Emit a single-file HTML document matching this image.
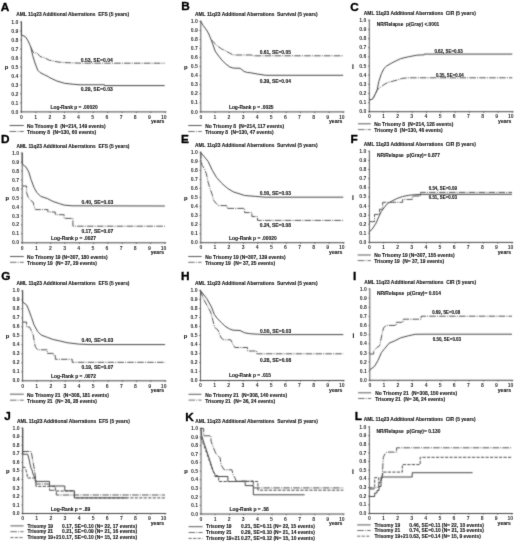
<!DOCTYPE html>
<html><head><meta charset="utf-8"><style>
html,body{margin:0;padding:0;background:#fff;}
svg{display:block;}
text{font-family:"Liberation Sans",sans-serif;font-weight:bold;fill:#1a1a1a;white-space:pre;stroke:#1a1a1a;stroke-width:0.12px;}
text.tk{fill:#333;stroke:none;}
</style></head><body>
<svg width="520" height="544" viewBox="0 0 520 544">
<defs><filter id="soft" filterUnits="userSpaceOnUse" x="0" y="0" width="520" height="544" color-interpolation-filters="sRGB"><feConvolveMatrix order="3" kernelMatrix="1 2 1 2 12 2 1 2 1" divisor="24" edgeMode="duplicate" preserveAlpha="false"/></filter><filter id="soft2" filterUnits="userSpaceOnUse" x="0" y="0" width="520" height="544" color-interpolation-filters="sRGB"><feConvolveMatrix order="3" kernelMatrix="0 1 0 1 8 1 0 1 0" divisor="12" edgeMode="none" preserveAlpha="false"/></filter></defs>
<rect width="520" height="544" fill="#fff"/>
<g filter="url(#soft)">
<rect width="520" height="544" fill="#fff"/>
<line x1="21.4" y1="21.2" x2="21.4" y2="111.9" stroke="#444" stroke-width="0.9"/>
<line x1="20.9" y1="111.9" x2="166.4" y2="111.9" stroke="#444" stroke-width="1"/>
<line x1="20.099999999999998" y1="111.9" x2="21.4" y2="111.9" stroke="#444" stroke-width="0.7"/>
<line x1="20.099999999999998" y1="102.9" x2="21.4" y2="102.9" stroke="#444" stroke-width="0.7"/>
<line x1="20.099999999999998" y1="93.9" x2="21.4" y2="93.9" stroke="#444" stroke-width="0.7"/>
<line x1="20.099999999999998" y1="84.9" x2="21.4" y2="84.9" stroke="#444" stroke-width="0.7"/>
<line x1="20.099999999999998" y1="75.9" x2="21.4" y2="75.9" stroke="#444" stroke-width="0.7"/>
<line x1="20.099999999999998" y1="67.0" x2="21.4" y2="67.0" stroke="#444" stroke-width="0.7"/>
<line x1="20.099999999999998" y1="58.0" x2="21.4" y2="58.0" stroke="#444" stroke-width="0.7"/>
<line x1="20.099999999999998" y1="49.0" x2="21.4" y2="49.0" stroke="#444" stroke-width="0.7"/>
<line x1="20.099999999999998" y1="40.0" x2="21.4" y2="40.0" stroke="#444" stroke-width="0.7"/>
<line x1="20.099999999999998" y1="31.0" x2="21.4" y2="31.0" stroke="#444" stroke-width="0.7"/>
<line x1="20.099999999999998" y1="22.0" x2="21.4" y2="22.0" stroke="#444" stroke-width="0.7"/>
<line x1="21.4" y1="111.9" x2="21.4" y2="113.1" stroke="#444" stroke-width="0.7"/>
<line x1="35.8" y1="111.9" x2="35.8" y2="113.1" stroke="#444" stroke-width="0.7"/>
<line x1="50.2" y1="111.9" x2="50.2" y2="113.1" stroke="#444" stroke-width="0.7"/>
<line x1="64.5" y1="111.9" x2="64.5" y2="113.1" stroke="#444" stroke-width="0.7"/>
<line x1="78.9" y1="111.9" x2="78.9" y2="113.1" stroke="#444" stroke-width="0.7"/>
<line x1="93.3" y1="111.9" x2="93.3" y2="113.1" stroke="#444" stroke-width="0.7"/>
<line x1="107.7" y1="111.9" x2="107.7" y2="113.1" stroke="#444" stroke-width="0.7"/>
<line x1="122.1" y1="111.9" x2="122.1" y2="113.1" stroke="#444" stroke-width="0.7"/>
<line x1="136.4" y1="111.9" x2="136.4" y2="113.1" stroke="#444" stroke-width="0.7"/>
<line x1="150.8" y1="111.9" x2="150.8" y2="113.1" stroke="#444" stroke-width="0.7"/>
<line x1="165.2" y1="111.9" x2="165.2" y2="113.1" stroke="#444" stroke-width="0.7"/>
<line x1="200.8" y1="20.5" x2="200.8" y2="111.9" stroke="#444" stroke-width="0.9"/>
<line x1="200.3" y1="111.9" x2="344.4" y2="111.9" stroke="#444" stroke-width="1"/>
<line x1="199.5" y1="111.9" x2="200.8" y2="111.9" stroke="#444" stroke-width="0.7"/>
<line x1="199.5" y1="102.8" x2="200.8" y2="102.8" stroke="#444" stroke-width="0.7"/>
<line x1="199.5" y1="93.8" x2="200.8" y2="93.8" stroke="#444" stroke-width="0.7"/>
<line x1="199.5" y1="84.7" x2="200.8" y2="84.7" stroke="#444" stroke-width="0.7"/>
<line x1="199.5" y1="75.7" x2="200.8" y2="75.7" stroke="#444" stroke-width="0.7"/>
<line x1="199.5" y1="66.6" x2="200.8" y2="66.6" stroke="#444" stroke-width="0.7"/>
<line x1="199.5" y1="57.5" x2="200.8" y2="57.5" stroke="#444" stroke-width="0.7"/>
<line x1="199.5" y1="48.5" x2="200.8" y2="48.5" stroke="#444" stroke-width="0.7"/>
<line x1="199.5" y1="39.4" x2="200.8" y2="39.4" stroke="#444" stroke-width="0.7"/>
<line x1="199.5" y1="30.4" x2="200.8" y2="30.4" stroke="#444" stroke-width="0.7"/>
<line x1="199.5" y1="21.3" x2="200.8" y2="21.3" stroke="#444" stroke-width="0.7"/>
<line x1="200.8" y1="111.9" x2="200.8" y2="113.1" stroke="#444" stroke-width="0.7"/>
<line x1="215.0" y1="111.9" x2="215.0" y2="113.1" stroke="#444" stroke-width="0.7"/>
<line x1="229.3" y1="111.9" x2="229.3" y2="113.1" stroke="#444" stroke-width="0.7"/>
<line x1="243.5" y1="111.9" x2="243.5" y2="113.1" stroke="#444" stroke-width="0.7"/>
<line x1="257.8" y1="111.9" x2="257.8" y2="113.1" stroke="#444" stroke-width="0.7"/>
<line x1="272.0" y1="111.9" x2="272.0" y2="113.1" stroke="#444" stroke-width="0.7"/>
<line x1="286.2" y1="111.9" x2="286.2" y2="113.1" stroke="#444" stroke-width="0.7"/>
<line x1="300.5" y1="111.9" x2="300.5" y2="113.1" stroke="#444" stroke-width="0.7"/>
<line x1="314.7" y1="111.9" x2="314.7" y2="113.1" stroke="#444" stroke-width="0.7"/>
<line x1="329.0" y1="111.9" x2="329.0" y2="113.1" stroke="#444" stroke-width="0.7"/>
<line x1="343.2" y1="111.9" x2="343.2" y2="113.1" stroke="#444" stroke-width="0.7"/>
<line x1="369.3" y1="19.5" x2="369.3" y2="111.7" stroke="#444" stroke-width="0.9"/>
<line x1="368.8" y1="111.7" x2="513.5" y2="111.7" stroke="#444" stroke-width="1"/>
<line x1="368.0" y1="111.7" x2="369.3" y2="111.7" stroke="#444" stroke-width="0.7"/>
<line x1="368.0" y1="102.6" x2="369.3" y2="102.6" stroke="#444" stroke-width="0.7"/>
<line x1="368.0" y1="93.4" x2="369.3" y2="93.4" stroke="#444" stroke-width="0.7"/>
<line x1="368.0" y1="84.3" x2="369.3" y2="84.3" stroke="#444" stroke-width="0.7"/>
<line x1="368.0" y1="75.1" x2="369.3" y2="75.1" stroke="#444" stroke-width="0.7"/>
<line x1="368.0" y1="66.0" x2="369.3" y2="66.0" stroke="#444" stroke-width="0.7"/>
<line x1="368.0" y1="56.9" x2="369.3" y2="56.9" stroke="#444" stroke-width="0.7"/>
<line x1="368.0" y1="47.7" x2="369.3" y2="47.7" stroke="#444" stroke-width="0.7"/>
<line x1="368.0" y1="38.6" x2="369.3" y2="38.6" stroke="#444" stroke-width="0.7"/>
<line x1="368.0" y1="29.4" x2="369.3" y2="29.4" stroke="#444" stroke-width="0.7"/>
<line x1="368.0" y1="20.3" x2="369.3" y2="20.3" stroke="#444" stroke-width="0.7"/>
<line x1="369.3" y1="111.7" x2="369.3" y2="112.9" stroke="#444" stroke-width="0.7"/>
<line x1="383.6" y1="111.7" x2="383.6" y2="112.9" stroke="#444" stroke-width="0.7"/>
<line x1="397.9" y1="111.7" x2="397.9" y2="112.9" stroke="#444" stroke-width="0.7"/>
<line x1="412.2" y1="111.7" x2="412.2" y2="112.9" stroke="#444" stroke-width="0.7"/>
<line x1="426.5" y1="111.7" x2="426.5" y2="112.9" stroke="#444" stroke-width="0.7"/>
<line x1="440.8" y1="111.7" x2="440.8" y2="112.9" stroke="#444" stroke-width="0.7"/>
<line x1="455.1" y1="111.7" x2="455.1" y2="112.9" stroke="#444" stroke-width="0.7"/>
<line x1="469.4" y1="111.7" x2="469.4" y2="112.9" stroke="#444" stroke-width="0.7"/>
<line x1="483.7" y1="111.7" x2="483.7" y2="112.9" stroke="#444" stroke-width="0.7"/>
<line x1="498.0" y1="111.7" x2="498.0" y2="112.9" stroke="#444" stroke-width="0.7"/>
<line x1="512.3" y1="111.7" x2="512.3" y2="112.9" stroke="#444" stroke-width="0.7"/>
<line x1="22.2" y1="152.3" x2="22.2" y2="242.8" stroke="#444" stroke-width="0.9"/>
<line x1="21.7" y1="242.8" x2="166.1" y2="242.8" stroke="#444" stroke-width="1"/>
<line x1="20.9" y1="242.8" x2="22.2" y2="242.8" stroke="#444" stroke-width="0.7"/>
<line x1="20.9" y1="233.8" x2="22.2" y2="233.8" stroke="#444" stroke-width="0.7"/>
<line x1="20.9" y1="224.9" x2="22.2" y2="224.9" stroke="#444" stroke-width="0.7"/>
<line x1="20.9" y1="215.9" x2="22.2" y2="215.9" stroke="#444" stroke-width="0.7"/>
<line x1="20.9" y1="206.9" x2="22.2" y2="206.9" stroke="#444" stroke-width="0.7"/>
<line x1="20.9" y1="197.9" x2="22.2" y2="197.9" stroke="#444" stroke-width="0.7"/>
<line x1="20.9" y1="189.0" x2="22.2" y2="189.0" stroke="#444" stroke-width="0.7"/>
<line x1="20.9" y1="180.0" x2="22.2" y2="180.0" stroke="#444" stroke-width="0.7"/>
<line x1="20.9" y1="171.0" x2="22.2" y2="171.0" stroke="#444" stroke-width="0.7"/>
<line x1="20.9" y1="162.1" x2="22.2" y2="162.1" stroke="#444" stroke-width="0.7"/>
<line x1="20.9" y1="153.1" x2="22.2" y2="153.1" stroke="#444" stroke-width="0.7"/>
<line x1="22.2" y1="242.8" x2="22.2" y2="244.0" stroke="#444" stroke-width="0.7"/>
<line x1="36.5" y1="242.8" x2="36.5" y2="244.0" stroke="#444" stroke-width="0.7"/>
<line x1="50.7" y1="242.8" x2="50.7" y2="244.0" stroke="#444" stroke-width="0.7"/>
<line x1="65.0" y1="242.8" x2="65.0" y2="244.0" stroke="#444" stroke-width="0.7"/>
<line x1="79.3" y1="242.8" x2="79.3" y2="244.0" stroke="#444" stroke-width="0.7"/>
<line x1="93.6" y1="242.8" x2="93.6" y2="244.0" stroke="#444" stroke-width="0.7"/>
<line x1="107.8" y1="242.8" x2="107.8" y2="244.0" stroke="#444" stroke-width="0.7"/>
<line x1="122.1" y1="242.8" x2="122.1" y2="244.0" stroke="#444" stroke-width="0.7"/>
<line x1="136.4" y1="242.8" x2="136.4" y2="244.0" stroke="#444" stroke-width="0.7"/>
<line x1="150.6" y1="242.8" x2="150.6" y2="244.0" stroke="#444" stroke-width="0.7"/>
<line x1="164.9" y1="242.8" x2="164.9" y2="244.0" stroke="#444" stroke-width="0.7"/>
<line x1="200.8" y1="151.5" x2="200.8" y2="242.7" stroke="#444" stroke-width="0.9"/>
<line x1="200.3" y1="242.7" x2="344.5" y2="242.7" stroke="#444" stroke-width="1"/>
<line x1="199.5" y1="242.7" x2="200.8" y2="242.7" stroke="#444" stroke-width="0.7"/>
<line x1="199.5" y1="233.7" x2="200.8" y2="233.7" stroke="#444" stroke-width="0.7"/>
<line x1="199.5" y1="224.6" x2="200.8" y2="224.6" stroke="#444" stroke-width="0.7"/>
<line x1="199.5" y1="215.6" x2="200.8" y2="215.6" stroke="#444" stroke-width="0.7"/>
<line x1="199.5" y1="206.5" x2="200.8" y2="206.5" stroke="#444" stroke-width="0.7"/>
<line x1="199.5" y1="197.5" x2="200.8" y2="197.5" stroke="#444" stroke-width="0.7"/>
<line x1="199.5" y1="188.5" x2="200.8" y2="188.5" stroke="#444" stroke-width="0.7"/>
<line x1="199.5" y1="179.4" x2="200.8" y2="179.4" stroke="#444" stroke-width="0.7"/>
<line x1="199.5" y1="170.4" x2="200.8" y2="170.4" stroke="#444" stroke-width="0.7"/>
<line x1="199.5" y1="161.3" x2="200.8" y2="161.3" stroke="#444" stroke-width="0.7"/>
<line x1="199.5" y1="152.3" x2="200.8" y2="152.3" stroke="#444" stroke-width="0.7"/>
<line x1="200.8" y1="242.7" x2="200.8" y2="243.9" stroke="#444" stroke-width="0.7"/>
<line x1="215.1" y1="242.7" x2="215.1" y2="243.9" stroke="#444" stroke-width="0.7"/>
<line x1="229.3" y1="242.7" x2="229.3" y2="243.9" stroke="#444" stroke-width="0.7"/>
<line x1="243.6" y1="242.7" x2="243.6" y2="243.9" stroke="#444" stroke-width="0.7"/>
<line x1="257.8" y1="242.7" x2="257.8" y2="243.9" stroke="#444" stroke-width="0.7"/>
<line x1="272.1" y1="242.7" x2="272.1" y2="243.9" stroke="#444" stroke-width="0.7"/>
<line x1="286.3" y1="242.7" x2="286.3" y2="243.9" stroke="#444" stroke-width="0.7"/>
<line x1="300.6" y1="242.7" x2="300.6" y2="243.9" stroke="#444" stroke-width="0.7"/>
<line x1="314.8" y1="242.7" x2="314.8" y2="243.9" stroke="#444" stroke-width="0.7"/>
<line x1="329.1" y1="242.7" x2="329.1" y2="243.9" stroke="#444" stroke-width="0.7"/>
<line x1="343.3" y1="242.7" x2="343.3" y2="243.9" stroke="#444" stroke-width="0.7"/>
<line x1="369.4" y1="150.5" x2="369.4" y2="242.4" stroke="#444" stroke-width="0.9"/>
<line x1="368.9" y1="242.4" x2="513.2" y2="242.4" stroke="#444" stroke-width="1"/>
<line x1="368.09999999999997" y1="242.4" x2="369.4" y2="242.4" stroke="#444" stroke-width="0.7"/>
<line x1="368.09999999999997" y1="233.3" x2="369.4" y2="233.3" stroke="#444" stroke-width="0.7"/>
<line x1="368.09999999999997" y1="224.2" x2="369.4" y2="224.2" stroke="#444" stroke-width="0.7"/>
<line x1="368.09999999999997" y1="215.1" x2="369.4" y2="215.1" stroke="#444" stroke-width="0.7"/>
<line x1="368.09999999999997" y1="206.0" x2="369.4" y2="206.0" stroke="#444" stroke-width="0.7"/>
<line x1="368.09999999999997" y1="196.9" x2="369.4" y2="196.9" stroke="#444" stroke-width="0.7"/>
<line x1="368.09999999999997" y1="187.7" x2="369.4" y2="187.7" stroke="#444" stroke-width="0.7"/>
<line x1="368.09999999999997" y1="178.6" x2="369.4" y2="178.6" stroke="#444" stroke-width="0.7"/>
<line x1="368.09999999999997" y1="169.5" x2="369.4" y2="169.5" stroke="#444" stroke-width="0.7"/>
<line x1="368.09999999999997" y1="160.4" x2="369.4" y2="160.4" stroke="#444" stroke-width="0.7"/>
<line x1="368.09999999999997" y1="151.3" x2="369.4" y2="151.3" stroke="#444" stroke-width="0.7"/>
<line x1="369.4" y1="242.4" x2="369.4" y2="243.6" stroke="#444" stroke-width="0.7"/>
<line x1="383.7" y1="242.4" x2="383.7" y2="243.6" stroke="#444" stroke-width="0.7"/>
<line x1="397.9" y1="242.4" x2="397.9" y2="243.6" stroke="#444" stroke-width="0.7"/>
<line x1="412.2" y1="242.4" x2="412.2" y2="243.6" stroke="#444" stroke-width="0.7"/>
<line x1="426.4" y1="242.4" x2="426.4" y2="243.6" stroke="#444" stroke-width="0.7"/>
<line x1="440.7" y1="242.4" x2="440.7" y2="243.6" stroke="#444" stroke-width="0.7"/>
<line x1="455.0" y1="242.4" x2="455.0" y2="243.6" stroke="#444" stroke-width="0.7"/>
<line x1="469.2" y1="242.4" x2="469.2" y2="243.6" stroke="#444" stroke-width="0.7"/>
<line x1="483.5" y1="242.4" x2="483.5" y2="243.6" stroke="#444" stroke-width="0.7"/>
<line x1="497.7" y1="242.4" x2="497.7" y2="243.6" stroke="#444" stroke-width="0.7"/>
<line x1="512.0" y1="242.4" x2="512.0" y2="243.6" stroke="#444" stroke-width="0.7"/>
<line x1="22.6" y1="290.0" x2="22.6" y2="380.8" stroke="#444" stroke-width="0.9"/>
<line x1="22.1" y1="380.8" x2="166.3" y2="380.8" stroke="#444" stroke-width="1"/>
<line x1="21.3" y1="380.8" x2="22.6" y2="380.8" stroke="#444" stroke-width="0.7"/>
<line x1="21.3" y1="371.8" x2="22.6" y2="371.8" stroke="#444" stroke-width="0.7"/>
<line x1="21.3" y1="362.8" x2="22.6" y2="362.8" stroke="#444" stroke-width="0.7"/>
<line x1="21.3" y1="353.8" x2="22.6" y2="353.8" stroke="#444" stroke-width="0.7"/>
<line x1="21.3" y1="344.8" x2="22.6" y2="344.8" stroke="#444" stroke-width="0.7"/>
<line x1="21.3" y1="335.8" x2="22.6" y2="335.8" stroke="#444" stroke-width="0.7"/>
<line x1="21.3" y1="326.8" x2="22.6" y2="326.8" stroke="#444" stroke-width="0.7"/>
<line x1="21.3" y1="317.8" x2="22.6" y2="317.8" stroke="#444" stroke-width="0.7"/>
<line x1="21.3" y1="308.8" x2="22.6" y2="308.8" stroke="#444" stroke-width="0.7"/>
<line x1="21.3" y1="299.8" x2="22.6" y2="299.8" stroke="#444" stroke-width="0.7"/>
<line x1="21.3" y1="290.8" x2="22.6" y2="290.8" stroke="#444" stroke-width="0.7"/>
<line x1="22.6" y1="380.8" x2="22.6" y2="382.0" stroke="#444" stroke-width="0.7"/>
<line x1="36.9" y1="380.8" x2="36.9" y2="382.0" stroke="#444" stroke-width="0.7"/>
<line x1="51.1" y1="380.8" x2="51.1" y2="382.0" stroke="#444" stroke-width="0.7"/>
<line x1="65.3" y1="380.8" x2="65.3" y2="382.0" stroke="#444" stroke-width="0.7"/>
<line x1="79.6" y1="380.8" x2="79.6" y2="382.0" stroke="#444" stroke-width="0.7"/>
<line x1="93.8" y1="380.8" x2="93.8" y2="382.0" stroke="#444" stroke-width="0.7"/>
<line x1="108.1" y1="380.8" x2="108.1" y2="382.0" stroke="#444" stroke-width="0.7"/>
<line x1="122.3" y1="380.8" x2="122.3" y2="382.0" stroke="#444" stroke-width="0.7"/>
<line x1="136.6" y1="380.8" x2="136.6" y2="382.0" stroke="#444" stroke-width="0.7"/>
<line x1="150.8" y1="380.8" x2="150.8" y2="382.0" stroke="#444" stroke-width="0.7"/>
<line x1="165.1" y1="380.8" x2="165.1" y2="382.0" stroke="#444" stroke-width="0.7"/>
<line x1="200.5" y1="289.7" x2="200.5" y2="380.5" stroke="#444" stroke-width="0.9"/>
<line x1="200.0" y1="380.5" x2="344.5" y2="380.5" stroke="#444" stroke-width="1"/>
<line x1="199.2" y1="380.5" x2="200.5" y2="380.5" stroke="#444" stroke-width="0.7"/>
<line x1="199.2" y1="371.5" x2="200.5" y2="371.5" stroke="#444" stroke-width="0.7"/>
<line x1="199.2" y1="362.5" x2="200.5" y2="362.5" stroke="#444" stroke-width="0.7"/>
<line x1="199.2" y1="353.5" x2="200.5" y2="353.5" stroke="#444" stroke-width="0.7"/>
<line x1="199.2" y1="344.5" x2="200.5" y2="344.5" stroke="#444" stroke-width="0.7"/>
<line x1="199.2" y1="335.5" x2="200.5" y2="335.5" stroke="#444" stroke-width="0.7"/>
<line x1="199.2" y1="326.5" x2="200.5" y2="326.5" stroke="#444" stroke-width="0.7"/>
<line x1="199.2" y1="317.5" x2="200.5" y2="317.5" stroke="#444" stroke-width="0.7"/>
<line x1="199.2" y1="308.5" x2="200.5" y2="308.5" stroke="#444" stroke-width="0.7"/>
<line x1="199.2" y1="299.5" x2="200.5" y2="299.5" stroke="#444" stroke-width="0.7"/>
<line x1="199.2" y1="290.5" x2="200.5" y2="290.5" stroke="#444" stroke-width="0.7"/>
<line x1="200.5" y1="380.5" x2="200.5" y2="381.7" stroke="#444" stroke-width="0.7"/>
<line x1="214.8" y1="380.5" x2="214.8" y2="381.7" stroke="#444" stroke-width="0.7"/>
<line x1="229.1" y1="380.5" x2="229.1" y2="381.7" stroke="#444" stroke-width="0.7"/>
<line x1="243.3" y1="380.5" x2="243.3" y2="381.7" stroke="#444" stroke-width="0.7"/>
<line x1="257.6" y1="380.5" x2="257.6" y2="381.7" stroke="#444" stroke-width="0.7"/>
<line x1="271.9" y1="380.5" x2="271.9" y2="381.7" stroke="#444" stroke-width="0.7"/>
<line x1="286.2" y1="380.5" x2="286.2" y2="381.7" stroke="#444" stroke-width="0.7"/>
<line x1="300.5" y1="380.5" x2="300.5" y2="381.7" stroke="#444" stroke-width="0.7"/>
<line x1="314.7" y1="380.5" x2="314.7" y2="381.7" stroke="#444" stroke-width="0.7"/>
<line x1="329.0" y1="380.5" x2="329.0" y2="381.7" stroke="#444" stroke-width="0.7"/>
<line x1="343.3" y1="380.5" x2="343.3" y2="381.7" stroke="#444" stroke-width="0.7"/>
<line x1="369.8" y1="288.2" x2="369.8" y2="380.3" stroke="#444" stroke-width="0.9"/>
<line x1="369.3" y1="380.3" x2="513.2" y2="380.3" stroke="#444" stroke-width="1"/>
<line x1="368.5" y1="380.3" x2="369.8" y2="380.3" stroke="#444" stroke-width="0.7"/>
<line x1="368.5" y1="371.2" x2="369.8" y2="371.2" stroke="#444" stroke-width="0.7"/>
<line x1="368.5" y1="362.0" x2="369.8" y2="362.0" stroke="#444" stroke-width="0.7"/>
<line x1="368.5" y1="352.9" x2="369.8" y2="352.9" stroke="#444" stroke-width="0.7"/>
<line x1="368.5" y1="343.8" x2="369.8" y2="343.8" stroke="#444" stroke-width="0.7"/>
<line x1="368.5" y1="334.6" x2="369.8" y2="334.6" stroke="#444" stroke-width="0.7"/>
<line x1="368.5" y1="325.5" x2="369.8" y2="325.5" stroke="#444" stroke-width="0.7"/>
<line x1="368.5" y1="316.4" x2="369.8" y2="316.4" stroke="#444" stroke-width="0.7"/>
<line x1="368.5" y1="307.3" x2="369.8" y2="307.3" stroke="#444" stroke-width="0.7"/>
<line x1="368.5" y1="298.1" x2="369.8" y2="298.1" stroke="#444" stroke-width="0.7"/>
<line x1="368.5" y1="289.0" x2="369.8" y2="289.0" stroke="#444" stroke-width="0.7"/>
<line x1="369.8" y1="380.3" x2="369.8" y2="381.5" stroke="#444" stroke-width="0.7"/>
<line x1="384.0" y1="380.3" x2="384.0" y2="381.5" stroke="#444" stroke-width="0.7"/>
<line x1="398.2" y1="380.3" x2="398.2" y2="381.5" stroke="#444" stroke-width="0.7"/>
<line x1="412.5" y1="380.3" x2="412.5" y2="381.5" stroke="#444" stroke-width="0.7"/>
<line x1="426.7" y1="380.3" x2="426.7" y2="381.5" stroke="#444" stroke-width="0.7"/>
<line x1="440.9" y1="380.3" x2="440.9" y2="381.5" stroke="#444" stroke-width="0.7"/>
<line x1="455.1" y1="380.3" x2="455.1" y2="381.5" stroke="#444" stroke-width="0.7"/>
<line x1="469.3" y1="380.3" x2="469.3" y2="381.5" stroke="#444" stroke-width="0.7"/>
<line x1="483.6" y1="380.3" x2="483.6" y2="381.5" stroke="#444" stroke-width="0.7"/>
<line x1="497.8" y1="380.3" x2="497.8" y2="381.5" stroke="#444" stroke-width="0.7"/>
<line x1="512.0" y1="380.3" x2="512.0" y2="381.5" stroke="#444" stroke-width="0.7"/>
<line x1="22.7" y1="427.4" x2="22.7" y2="513.5" stroke="#444" stroke-width="0.9"/>
<line x1="22.2" y1="513.5" x2="166.2" y2="513.5" stroke="#444" stroke-width="1"/>
<line x1="21.4" y1="513.5" x2="22.7" y2="513.5" stroke="#444" stroke-width="0.7"/>
<line x1="21.4" y1="505.0" x2="22.7" y2="505.0" stroke="#444" stroke-width="0.7"/>
<line x1="21.4" y1="496.4" x2="22.7" y2="496.4" stroke="#444" stroke-width="0.7"/>
<line x1="21.4" y1="487.9" x2="22.7" y2="487.9" stroke="#444" stroke-width="0.7"/>
<line x1="21.4" y1="479.4" x2="22.7" y2="479.4" stroke="#444" stroke-width="0.7"/>
<line x1="21.4" y1="470.9" x2="22.7" y2="470.9" stroke="#444" stroke-width="0.7"/>
<line x1="21.4" y1="462.3" x2="22.7" y2="462.3" stroke="#444" stroke-width="0.7"/>
<line x1="21.4" y1="453.8" x2="22.7" y2="453.8" stroke="#444" stroke-width="0.7"/>
<line x1="21.4" y1="445.3" x2="22.7" y2="445.3" stroke="#444" stroke-width="0.7"/>
<line x1="21.4" y1="436.7" x2="22.7" y2="436.7" stroke="#444" stroke-width="0.7"/>
<line x1="21.4" y1="428.2" x2="22.7" y2="428.2" stroke="#444" stroke-width="0.7"/>
<line x1="22.7" y1="513.5" x2="22.7" y2="514.7" stroke="#444" stroke-width="0.7"/>
<line x1="36.9" y1="513.5" x2="36.9" y2="514.7" stroke="#444" stroke-width="0.7"/>
<line x1="51.2" y1="513.5" x2="51.2" y2="514.7" stroke="#444" stroke-width="0.7"/>
<line x1="65.4" y1="513.5" x2="65.4" y2="514.7" stroke="#444" stroke-width="0.7"/>
<line x1="79.6" y1="513.5" x2="79.6" y2="514.7" stroke="#444" stroke-width="0.7"/>
<line x1="93.9" y1="513.5" x2="93.9" y2="514.7" stroke="#444" stroke-width="0.7"/>
<line x1="108.1" y1="513.5" x2="108.1" y2="514.7" stroke="#444" stroke-width="0.7"/>
<line x1="122.3" y1="513.5" x2="122.3" y2="514.7" stroke="#444" stroke-width="0.7"/>
<line x1="136.5" y1="513.5" x2="136.5" y2="514.7" stroke="#444" stroke-width="0.7"/>
<line x1="150.8" y1="513.5" x2="150.8" y2="514.7" stroke="#444" stroke-width="0.7"/>
<line x1="165.0" y1="513.5" x2="165.0" y2="514.7" stroke="#444" stroke-width="0.7"/>
<line x1="201.0" y1="427.6" x2="201.0" y2="514.0" stroke="#444" stroke-width="0.9"/>
<line x1="200.5" y1="514.0" x2="344.5" y2="514.0" stroke="#444" stroke-width="1"/>
<line x1="199.7" y1="514.0" x2="201.0" y2="514.0" stroke="#444" stroke-width="0.7"/>
<line x1="199.7" y1="505.4" x2="201.0" y2="505.4" stroke="#444" stroke-width="0.7"/>
<line x1="199.7" y1="496.9" x2="201.0" y2="496.9" stroke="#444" stroke-width="0.7"/>
<line x1="199.7" y1="488.3" x2="201.0" y2="488.3" stroke="#444" stroke-width="0.7"/>
<line x1="199.7" y1="479.8" x2="201.0" y2="479.8" stroke="#444" stroke-width="0.7"/>
<line x1="199.7" y1="471.2" x2="201.0" y2="471.2" stroke="#444" stroke-width="0.7"/>
<line x1="199.7" y1="462.6" x2="201.0" y2="462.6" stroke="#444" stroke-width="0.7"/>
<line x1="199.7" y1="454.1" x2="201.0" y2="454.1" stroke="#444" stroke-width="0.7"/>
<line x1="199.7" y1="445.5" x2="201.0" y2="445.5" stroke="#444" stroke-width="0.7"/>
<line x1="199.7" y1="437.0" x2="201.0" y2="437.0" stroke="#444" stroke-width="0.7"/>
<line x1="199.7" y1="428.4" x2="201.0" y2="428.4" stroke="#444" stroke-width="0.7"/>
<line x1="201.0" y1="514.0" x2="201.0" y2="515.2" stroke="#444" stroke-width="0.7"/>
<line x1="215.2" y1="514.0" x2="215.2" y2="515.2" stroke="#444" stroke-width="0.7"/>
<line x1="229.5" y1="514.0" x2="229.5" y2="515.2" stroke="#444" stroke-width="0.7"/>
<line x1="243.7" y1="514.0" x2="243.7" y2="515.2" stroke="#444" stroke-width="0.7"/>
<line x1="257.9" y1="514.0" x2="257.9" y2="515.2" stroke="#444" stroke-width="0.7"/>
<line x1="272.1" y1="514.0" x2="272.1" y2="515.2" stroke="#444" stroke-width="0.7"/>
<line x1="286.4" y1="514.0" x2="286.4" y2="515.2" stroke="#444" stroke-width="0.7"/>
<line x1="300.6" y1="514.0" x2="300.6" y2="515.2" stroke="#444" stroke-width="0.7"/>
<line x1="314.8" y1="514.0" x2="314.8" y2="515.2" stroke="#444" stroke-width="0.7"/>
<line x1="329.1" y1="514.0" x2="329.1" y2="515.2" stroke="#444" stroke-width="0.7"/>
<line x1="343.3" y1="514.0" x2="343.3" y2="515.2" stroke="#444" stroke-width="0.7"/>
<line x1="369.4" y1="426.1" x2="369.4" y2="513.5" stroke="#444" stroke-width="0.9"/>
<line x1="368.9" y1="513.5" x2="513.0" y2="513.5" stroke="#444" stroke-width="1"/>
<line x1="368.09999999999997" y1="513.5" x2="369.4" y2="513.5" stroke="#444" stroke-width="0.7"/>
<line x1="368.09999999999997" y1="504.8" x2="369.4" y2="504.8" stroke="#444" stroke-width="0.7"/>
<line x1="368.09999999999997" y1="496.2" x2="369.4" y2="496.2" stroke="#444" stroke-width="0.7"/>
<line x1="368.09999999999997" y1="487.5" x2="369.4" y2="487.5" stroke="#444" stroke-width="0.7"/>
<line x1="368.09999999999997" y1="478.9" x2="369.4" y2="478.9" stroke="#444" stroke-width="0.7"/>
<line x1="368.09999999999997" y1="470.2" x2="369.4" y2="470.2" stroke="#444" stroke-width="0.7"/>
<line x1="368.09999999999997" y1="461.5" x2="369.4" y2="461.5" stroke="#444" stroke-width="0.7"/>
<line x1="368.09999999999997" y1="452.9" x2="369.4" y2="452.9" stroke="#444" stroke-width="0.7"/>
<line x1="368.09999999999997" y1="444.2" x2="369.4" y2="444.2" stroke="#444" stroke-width="0.7"/>
<line x1="368.09999999999997" y1="435.6" x2="369.4" y2="435.6" stroke="#444" stroke-width="0.7"/>
<line x1="368.09999999999997" y1="426.9" x2="369.4" y2="426.9" stroke="#444" stroke-width="0.7"/>
<line x1="369.4" y1="513.5" x2="369.4" y2="514.7" stroke="#444" stroke-width="0.7"/>
<line x1="383.6" y1="513.5" x2="383.6" y2="514.7" stroke="#444" stroke-width="0.7"/>
<line x1="397.9" y1="513.5" x2="397.9" y2="514.7" stroke="#444" stroke-width="0.7"/>
<line x1="412.1" y1="513.5" x2="412.1" y2="514.7" stroke="#444" stroke-width="0.7"/>
<line x1="426.4" y1="513.5" x2="426.4" y2="514.7" stroke="#444" stroke-width="0.7"/>
<line x1="440.6" y1="513.5" x2="440.6" y2="514.7" stroke="#444" stroke-width="0.7"/>
<line x1="454.8" y1="513.5" x2="454.8" y2="514.7" stroke="#444" stroke-width="0.7"/>
<line x1="469.1" y1="513.5" x2="469.1" y2="514.7" stroke="#444" stroke-width="0.7"/>
<line x1="483.3" y1="513.5" x2="483.3" y2="514.7" stroke="#444" stroke-width="0.7"/>
<line x1="497.6" y1="513.5" x2="497.6" y2="514.7" stroke="#444" stroke-width="0.7"/>
<line x1="511.8" y1="513.5" x2="511.8" y2="514.7" stroke="#444" stroke-width="0.7"/>
<line x1="9.6" y1="125.5" x2="23.8" y2="125.5" stroke="#3a3a3a" stroke-width="0.85"/>
<line x1="9.6" y1="131.5" x2="23.8" y2="131.5" stroke="#505050" stroke-width="0.85" stroke-dasharray="6.5 1.2 1 1.2"/>
<polyline points="21.4,22.0 21.4,34.9 25.4,36.7 28.1,40.9 30.9,47.3 32.7,55.6 35.0,63.0 37.8,70.3 40.1,72.6 44.7,74.9 48.3,76.7 50.0,77.8 56.9,81.0 64.6,83.3 73.8,84.3 80.0,84.8 104.5,84.8 104.5,85.6 164.7,85.6" fill="none" stroke="#3a3a3a" stroke-width="0.95"/>
<polyline points="30.9,47.3 33.2,52.4 37.3,53.3 40.1,56.5 44.7,57.9 49.3,60.2 58.0,62.0 65.0,62.6 75.0,63.0 85.0,63.2 164.7,63.2" fill="none" stroke="#505050" stroke-width="1" stroke-dasharray="6.5 1.2 1 1.2"/>
<line x1="188.2" y1="125.5" x2="201.8" y2="125.5" stroke="#3a3a3a" stroke-width="0.85"/>
<line x1="188.2" y1="131.5" x2="201.8" y2="131.5" stroke="#505050" stroke-width="0.85" stroke-dasharray="6.5 1.2 1 1.2"/>
<polyline points="200.8,21.3 203.1,25.4 206.5,30.0 208.8,34.0 211.1,39.6 212.8,44.2 215.1,51.0 217.9,55.0 221.9,60.1 225.9,64.1 229.9,67.0 233.3,68.1 240.1,68.3 244.1,71.5 247.5,72.5 250.2,72.7 257.1,74.0 265.8,75.3 343.2,75.3" fill="none" stroke="#3a3a3a" stroke-width="0.95"/>
<polyline points="211.1,39.6 213.9,42.5 217.4,45.9 221.3,48.8 225.9,51.0 229.9,53.3 233.3,55.0 252.8,55.0 252.8,55.8 343.2,55.8" fill="none" stroke="#505050" stroke-width="1" stroke-dasharray="6.5 1.2 1 1.2"/>
<line x1="358.0" y1="123.8" x2="370.8" y2="123.8" stroke="#3a3a3a" stroke-width="0.85"/>
<line x1="358.0" y1="129.6" x2="370.8" y2="129.6" stroke="#505050" stroke-width="0.85" stroke-dasharray="6.5 1.2 1 1.2"/>
<polyline points="369.3,99.7 371.9,99.5 373.7,97.1 375.5,93.5 377.1,90.2 378.8,81.5 381.4,73.7 384.0,68.5 386.6,66.0 391.8,63.0 396.1,60.8 400.5,58.7 408.3,56.8 416.9,55.2 424.3,54.8 424.3,54.1 512.3,54.1" fill="none" stroke="#3a3a3a" stroke-width="0.95"/>
<polyline points="369.3,99.7 371.9,99.5 373.7,97.5 375.5,93.8 377.1,90.2 378.5,88.5 380.6,87.2 384.0,84.6 387.5,82.6 392.7,81.2 397.0,80.1 402.2,78.4 408.0,77.8 512.3,77.8" fill="none" stroke="#505050" stroke-width="1" stroke-dasharray="6.5 1.2 1 1.2"/>
<line x1="10.0" y1="256.5" x2="23.8" y2="256.5" stroke="#3a3a3a" stroke-width="0.85"/>
<line x1="10.0" y1="262.3" x2="23.8" y2="262.3" stroke="#505050" stroke-width="0.85" stroke-dasharray="6.5 1.2 1 1.2"/>
<polyline points="22.2,153.1 22.2,164.0 25.9,166.9 28.8,172.1 31.0,179.4 34.0,187.5 36.9,192.6 40.6,196.3 47.2,198.5 53.1,201.5 59.7,203.7 64.1,205.1 72.0,205.8 164.9,206.0" fill="none" stroke="#3a3a3a" stroke-width="0.95"/>
<polyline points="22.2,186.0 26.6,186.0 26.6,192.6 28.1,197.1 31.0,200.7 33.2,202.2 34.0,206.0 35.4,209.6 47.9,209.6 47.9,212.0 55.3,212.0 55.3,214.7 64.1,214.7 64.1,218.4 72.9,218.4 72.9,226.2 164.9,226.2" fill="none" stroke="#505050" stroke-width="1" stroke-dasharray="6.5 1.2 1 1.2"/>
<line x1="188.2" y1="256.5" x2="201.6" y2="256.5" stroke="#3a3a3a" stroke-width="0.85"/>
<line x1="188.2" y1="262.3" x2="201.6" y2="262.3" stroke="#505050" stroke-width="0.85" stroke-dasharray="6.5 1.2 1 1.2"/>
<polyline points="200.8,152.6 208.1,161.3 212.3,170.3 216.5,177.5 221.9,183.4 227.3,188.2 233.2,191.8 244.6,195.5 255.6,196.4 265.0,197.2 343.3,197.2" fill="none" stroke="#3a3a3a" stroke-width="0.95"/>
<polyline points="200.8,152.3 200.8,160.0 202.2,165.5 204.6,169.1 206.4,173.9 208.1,182.2 209.9,188.2 212.3,194.8 213.5,200.1 215.9,203.1 218.3,205.6 227.1,205.6 227.1,208.4 244.6,208.4 244.6,212.6 251.9,212.6 251.9,216.6 257.5,216.6 257.5,220.4 343.3,220.4" fill="none" stroke="#505050" stroke-width="1" stroke-dasharray="6.5 1.2 1 1.2"/>
<line x1="357.7" y1="255.0" x2="370.8" y2="255.0" stroke="#3a3a3a" stroke-width="0.85"/>
<line x1="357.7" y1="260.6" x2="370.8" y2="260.6" stroke="#505050" stroke-width="0.85" stroke-dasharray="6.5 1.2 1 1.2"/>
<polyline points="369.4,231.7 372.0,229.4 376.1,223.1 379.0,216.2 381.3,211.5 384.7,206.9 387.6,203.5 391.7,201.2 396.8,198.6 402.6,196.5 409.5,195.2 420.0,194.4 512.0,194.3" fill="none" stroke="#3a3a3a" stroke-width="0.95"/>
<polyline points="369.4,221.7 374.5,221.7 374.5,214.4 379.5,214.4 379.5,209.2 382.7,209.2 382.7,202.3 402.6,202.3 402.6,199.4 412.4,199.4 412.4,196.0 420.5,196.0 420.5,192.4 512.0,192.4" fill="none" stroke="#505050" stroke-width="1" stroke-dasharray="6.5 1.2 1 1.2"/>
<line x1="10.0" y1="394.2" x2="23.8" y2="394.2" stroke="#3a3a3a" stroke-width="0.85"/>
<line x1="10.0" y1="400.2" x2="23.8" y2="400.2" stroke="#505050" stroke-width="0.85" stroke-dasharray="6.5 1.2 1 1.2"/>
<polyline points="22.6,290.8 22.6,302.0 26.6,304.9 28.8,310.1 31.5,317.4 34.0,324.8 37.6,331.4 41.3,335.1 47.2,337.3 53.1,339.5 59.7,340.9 67.1,342.7 78.6,344.1 90.0,344.6 165.1,344.6" fill="none" stroke="#3a3a3a" stroke-width="0.95"/>
<polyline points="22.6,322.1 26.6,322.1 26.6,327.0 29.5,327.0 31.0,329.9 33.2,335.1 34.7,343.9 35.4,346.8 37.6,349.8 47.2,349.8 47.2,353.4 53.1,353.4 53.1,355.0 55.3,355.0 55.3,359.3 72.2,359.3 72.2,362.3 165.1,362.3" fill="none" stroke="#505050" stroke-width="1" stroke-dasharray="6.5 1.2 1 1.2"/>
<line x1="188.5" y1="394.3" x2="201.5" y2="394.3" stroke="#3a3a3a" stroke-width="0.85"/>
<line x1="188.5" y1="400.1" x2="201.5" y2="400.1" stroke="#505050" stroke-width="0.85" stroke-dasharray="6.5 1.2 1 1.2"/>
<polyline points="200.5,290.5 206.9,298.8 211.5,307.0 214.3,314.4 216.9,318.1 221.5,322.7 225.0,326.2 229.6,329.0 233.1,330.2 240.0,330.5 244.6,332.8 249.8,333.7 257.3,334.2 265.0,334.6 343.3,334.6" fill="none" stroke="#3a3a3a" stroke-width="0.95"/>
<polyline points="200.5,290.5 203.3,298.8 206.9,305.2 210.6,312.0 212.9,320.4 214.6,327.3 218.1,330.2 219.8,334.8 221.5,338.3 223.8,339.8 230.8,339.8 232.5,343.5 234.8,347.5 247.5,347.5 247.5,351.0 256.7,351.0 256.7,353.8 343.3,353.8" fill="none" stroke="#505050" stroke-width="1" stroke-dasharray="6.5 1.2 1 1.2"/>
<line x1="358.1" y1="392.8" x2="371.2" y2="392.8" stroke="#3a3a3a" stroke-width="0.85"/>
<line x1="358.1" y1="398.5" x2="371.2" y2="398.5" stroke="#505050" stroke-width="0.85" stroke-dasharray="6.5 1.2 1 1.2"/>
<polyline points="369.8,369.9 374.5,366.4 378.0,360.4 381.4,352.6 384.9,348.3 389.2,343.1 394.4,341.0 400.5,337.9 408.3,335.8 415.2,334.3 425.0,334.2 512.0,334.2" fill="none" stroke="#3a3a3a" stroke-width="0.95"/>
<polyline points="369.8,354.0 373.7,354.0 373.7,350.9 377.1,347.4 379.7,345.7 382.3,332.7 383.7,327.5 386.6,325.4 396.2,325.4 396.2,322.3 403.1,322.3 403.1,319.2 421.2,319.2 421.2,316.2 512.0,316.2" fill="none" stroke="#505050" stroke-width="1" stroke-dasharray="6.5 1.2 1 1.2"/>
<line x1="10.4" y1="525.9" x2="23.6" y2="525.9" stroke="#3a3a3a" stroke-width="0.85"/>
<line x1="10.4" y1="531.7" x2="23.6" y2="531.7" stroke="#505050" stroke-width="0.85" stroke-dasharray="6.5 1.2 1 1.2"/>
<line x1="10.4" y1="537.6" x2="23.6" y2="537.6" stroke="#4a4a4a" stroke-width="0.85" stroke-dasharray="3.2 1.3"/>
<polyline points="22.7,428.2 22.7,454.2 27.7,454.2 29.0,459.0 30.0,464.0 31.0,468.0 32.0,470.0 33.0,474.0 34.0,476.0 35.0,478.5 35.7,481.4 49.5,481.4 49.5,486.0 64.8,486.0 64.8,490.8 74.4,490.8 74.4,497.9 126.8,497.9" fill="none" stroke="#3a3a3a" stroke-width="0.95"/>
<polyline points="22.7,451.5 31.2,451.5 32.0,456.0 33.0,462.0 34.0,467.0 35.0,474.0 36.0,481.0 36.0,484.0 49.5,484.0 49.5,490.3 56.3,490.3 56.3,495.0 165.0,495.0" fill="none" stroke="#505050" stroke-width="1" stroke-dasharray="6.5 1.2 1 1.2"/>
<polyline points="22.7,467.3 25.0,467.3 26.0,470.0 27.0,474.0 27.5,478.0 35.0,478.0 36.0,486.4 55.3,486.4 55.3,491.0 74.4,491.0 74.4,497.9 165.0,497.9" fill="none" stroke="#4a4a4a" stroke-width="1" stroke-dasharray="3.2 1.3"/>
<line x1="188.6" y1="526.7" x2="202.6" y2="526.7" stroke="#3a3a3a" stroke-width="0.85"/>
<line x1="188.6" y1="532.5" x2="202.6" y2="532.5" stroke="#505050" stroke-width="0.85" stroke-dasharray="6.5 1.2 1 1.2"/>
<line x1="188.6" y1="538.4" x2="202.6" y2="538.4" stroke="#4a4a4a" stroke-width="0.85" stroke-dasharray="3.2 1.3"/>
<polyline points="201.0,428.4 201.6,435.3 204.2,443.5 207.3,452.8 210.3,462.0 212.9,470.3 215.0,474.4 215.0,476.5 227.9,476.5 227.9,481.5 245.2,481.5 245.2,485.6 253.3,485.6 253.3,494.8 304.6,494.8" fill="none" stroke="#3a3a3a" stroke-width="0.95"/>
<polyline points="201.0,428.4 203.7,428.4 203.7,435.8 210.9,435.8 211.0,441.0 213.4,447.7 216.0,453.8 220.1,457.9 221.1,465.1 224.2,469.8 231.9,469.8 233.0,474.4 235.0,478.0 236.2,481.0 253.3,481.0 253.3,487.9 343.3,487.9" fill="none" stroke="#505050" stroke-width="1" stroke-dasharray="6.5 1.2 1 1.2"/>
<polyline points="201.0,437.4 204.2,446.1 207.0,454.0 210.9,465.1 213.4,472.3 216.0,475.4 218.7,476.3 218.7,481.5 257.9,481.5 257.9,490.2 343.3,490.2" fill="none" stroke="#4a4a4a" stroke-width="1" stroke-dasharray="3.2 1.3"/>
<line x1="357.2" y1="524.9" x2="370.7" y2="524.9" stroke="#3a3a3a" stroke-width="0.85"/>
<line x1="357.2" y1="530.5" x2="370.7" y2="530.5" stroke="#505050" stroke-width="0.85" stroke-dasharray="6.5 1.2 1 1.2"/>
<line x1="357.2" y1="536.2" x2="370.7" y2="536.2" stroke="#4a4a4a" stroke-width="0.85" stroke-dasharray="3.2 1.3"/>
<polyline points="369.4,496.5 374.7,496.5 374.7,493.0 377.0,493.0 377.0,490.5 379.0,490.5 379.0,486.5 381.0,486.5 381.0,477.0 412.2,477.0 412.2,472.7 472.6,472.7" fill="none" stroke="#3a3a3a" stroke-width="0.95"/>
<polyline points="369.4,489.0 374.1,489.0 374.1,487.3 378.7,487.3 378.7,484.0 381.0,481.0 382.2,476.9 383.3,457.3 385.0,453.8 386.8,452.1 396.6,452.1 396.6,447.8 511.8,447.8" fill="none" stroke="#505050" stroke-width="1" stroke-dasharray="6.5 1.2 1 1.2"/>
<polyline points="369.4,487.8 372.5,487.8 374.7,486.0 374.7,477.6 378.7,477.6 378.7,483.0 381.0,481.0 383.3,472.1 402.3,472.1 402.3,464.6 420.2,464.6 420.2,457.3 511.8,457.3" fill="none" stroke="#4a4a4a" stroke-width="1" stroke-dasharray="3.2 1.3"/>
</g>
<g filter="url(#soft2)">
<text x="18.40" y="113.53" font-size="5.1" text-anchor="end" class="tk">0.0</text>
<text x="18.40" y="104.54" font-size="5.1" text-anchor="end" class="tk">0.1</text>
<text x="18.40" y="95.55" font-size="5.1" text-anchor="end" class="tk">0.2</text>
<text x="18.40" y="86.56" font-size="5.1" text-anchor="end" class="tk">0.3</text>
<text x="18.40" y="77.57" font-size="5.1" text-anchor="end" class="tk">0.4</text>
<text x="18.40" y="68.58" font-size="5.1" text-anchor="end" class="tk">0.5</text>
<text x="18.40" y="59.59" font-size="5.1" text-anchor="end" class="tk">0.6</text>
<text x="18.40" y="50.60" font-size="5.1" text-anchor="end" class="tk">0.7</text>
<text x="18.40" y="41.61" font-size="5.1" text-anchor="end" class="tk">0.8</text>
<text x="18.40" y="32.62" font-size="5.1" text-anchor="end" class="tk">0.9</text>
<text x="18.40" y="23.63" font-size="5.1" text-anchor="end" class="tk">1.0</text>
<text x="21.40" y="118.63" font-size="5.1" text-anchor="middle" class="tk">0</text>
<text x="35.64" y="118.63" font-size="5.1" text-anchor="middle" class="tk">1</text>
<text x="49.87" y="118.63" font-size="5.1" text-anchor="middle" class="tk">2</text>
<text x="64.11" y="118.63" font-size="5.1" text-anchor="middle" class="tk">3</text>
<text x="78.34" y="118.63" font-size="5.1" text-anchor="middle" class="tk">4</text>
<text x="92.58" y="118.63" font-size="5.1" text-anchor="middle" class="tk">5</text>
<text x="106.82" y="118.63" font-size="5.1" text-anchor="middle" class="tk">6</text>
<text x="121.05" y="118.63" font-size="5.1" text-anchor="middle" class="tk">7</text>
<text x="135.29" y="118.63" font-size="5.1" text-anchor="middle" class="tk">8</text>
<text x="149.53" y="118.63" font-size="5.1" text-anchor="middle" class="tk">9</text>
<text x="163.76" y="118.63" font-size="5.1" text-anchor="middle" class="tk">10</text>
<text x="164.30" y="123.23" font-size="5.1" text-anchor="end">years</text>
<text x="6.4" y="69.0" font-size="5.8" text-anchor="middle">p</text>
<text x="197.80" y="113.53" font-size="5.1" text-anchor="end" class="tk">0.0</text>
<text x="197.80" y="104.47" font-size="5.1" text-anchor="end" class="tk">0.1</text>
<text x="197.80" y="95.41" font-size="5.1" text-anchor="end" class="tk">0.2</text>
<text x="197.80" y="86.35" font-size="5.1" text-anchor="end" class="tk">0.3</text>
<text x="197.80" y="77.29" font-size="5.1" text-anchor="end" class="tk">0.4</text>
<text x="197.80" y="68.23" font-size="5.1" text-anchor="end" class="tk">0.5</text>
<text x="197.80" y="59.17" font-size="5.1" text-anchor="end" class="tk">0.6</text>
<text x="197.80" y="50.11" font-size="5.1" text-anchor="end" class="tk">0.7</text>
<text x="197.80" y="41.05" font-size="5.1" text-anchor="end" class="tk">0.8</text>
<text x="197.80" y="31.99" font-size="5.1" text-anchor="end" class="tk">0.9</text>
<text x="197.80" y="22.93" font-size="5.1" text-anchor="end" class="tk">1.0</text>
<text x="200.80" y="118.63" font-size="5.1" text-anchor="middle" class="tk">0</text>
<text x="214.90" y="118.63" font-size="5.1" text-anchor="middle" class="tk">1</text>
<text x="229.00" y="118.63" font-size="5.1" text-anchor="middle" class="tk">2</text>
<text x="243.09" y="118.63" font-size="5.1" text-anchor="middle" class="tk">3</text>
<text x="257.19" y="118.63" font-size="5.1" text-anchor="middle" class="tk">4</text>
<text x="271.29" y="118.63" font-size="5.1" text-anchor="middle" class="tk">5</text>
<text x="285.39" y="118.63" font-size="5.1" text-anchor="middle" class="tk">6</text>
<text x="299.48" y="118.63" font-size="5.1" text-anchor="middle" class="tk">7</text>
<text x="313.58" y="118.63" font-size="5.1" text-anchor="middle" class="tk">8</text>
<text x="327.68" y="118.63" font-size="5.1" text-anchor="middle" class="tk">9</text>
<text x="341.78" y="118.63" font-size="5.1" text-anchor="middle" class="tk">10</text>
<text x="342.30" y="123.23" font-size="5.1" text-anchor="end">years</text>
<text x="185.8" y="68.6" font-size="5.8" text-anchor="middle">p</text>
<text x="366.30" y="113.33" font-size="5.1" text-anchor="end" class="tk">0.0</text>
<text x="366.30" y="104.19" font-size="5.1" text-anchor="end" class="tk">0.1</text>
<text x="366.30" y="95.05" font-size="5.1" text-anchor="end" class="tk">0.2</text>
<text x="366.30" y="85.91" font-size="5.1" text-anchor="end" class="tk">0.3</text>
<text x="366.30" y="76.77" font-size="5.1" text-anchor="end" class="tk">0.4</text>
<text x="366.30" y="67.63" font-size="5.1" text-anchor="end" class="tk">0.5</text>
<text x="366.30" y="58.49" font-size="5.1" text-anchor="end" class="tk">0.6</text>
<text x="366.30" y="49.35" font-size="5.1" text-anchor="end" class="tk">0.7</text>
<text x="366.30" y="40.21" font-size="5.1" text-anchor="end" class="tk">0.8</text>
<text x="366.30" y="31.07" font-size="5.1" text-anchor="end" class="tk">0.9</text>
<text x="366.30" y="21.93" font-size="5.1" text-anchor="end" class="tk">1.0</text>
<text x="369.30" y="118.43" font-size="5.1" text-anchor="middle" class="tk">0</text>
<text x="383.46" y="118.43" font-size="5.1" text-anchor="middle" class="tk">1</text>
<text x="397.61" y="118.43" font-size="5.1" text-anchor="middle" class="tk">2</text>
<text x="411.77" y="118.43" font-size="5.1" text-anchor="middle" class="tk">3</text>
<text x="425.93" y="118.43" font-size="5.1" text-anchor="middle" class="tk">4</text>
<text x="440.08" y="118.43" font-size="5.1" text-anchor="middle" class="tk">5</text>
<text x="454.24" y="118.43" font-size="5.1" text-anchor="middle" class="tk">6</text>
<text x="468.40" y="118.43" font-size="5.1" text-anchor="middle" class="tk">7</text>
<text x="482.56" y="118.43" font-size="5.1" text-anchor="middle" class="tk">8</text>
<text x="496.71" y="118.43" font-size="5.1" text-anchor="middle" class="tk">9</text>
<text x="510.87" y="118.43" font-size="5.1" text-anchor="middle" class="tk">10</text>
<text x="511.40" y="123.03" font-size="5.1" text-anchor="end">years</text>
<text x="352.9" y="69.4" font-size="6.6" text-anchor="middle">i</text>
<text x="19.20" y="244.43" font-size="5.1" text-anchor="end" class="tk">0.0</text>
<text x="19.20" y="235.46" font-size="5.1" text-anchor="end" class="tk">0.1</text>
<text x="19.20" y="226.49" font-size="5.1" text-anchor="end" class="tk">0.2</text>
<text x="19.20" y="217.52" font-size="5.1" text-anchor="end" class="tk">0.3</text>
<text x="19.20" y="208.55" font-size="5.1" text-anchor="end" class="tk">0.4</text>
<text x="19.20" y="199.58" font-size="5.1" text-anchor="end" class="tk">0.5</text>
<text x="19.20" y="190.61" font-size="5.1" text-anchor="end" class="tk">0.6</text>
<text x="19.20" y="181.64" font-size="5.1" text-anchor="end" class="tk">0.7</text>
<text x="19.20" y="172.67" font-size="5.1" text-anchor="end" class="tk">0.8</text>
<text x="19.20" y="163.70" font-size="5.1" text-anchor="end" class="tk">0.9</text>
<text x="19.20" y="154.73" font-size="5.1" text-anchor="end" class="tk">1.0</text>
<text x="22.20" y="249.53" font-size="5.1" text-anchor="middle" class="tk">0</text>
<text x="36.33" y="249.53" font-size="5.1" text-anchor="middle" class="tk">1</text>
<text x="50.45" y="249.53" font-size="5.1" text-anchor="middle" class="tk">2</text>
<text x="64.58" y="249.53" font-size="5.1" text-anchor="middle" class="tk">3</text>
<text x="78.71" y="249.53" font-size="5.1" text-anchor="middle" class="tk">4</text>
<text x="92.84" y="249.53" font-size="5.1" text-anchor="middle" class="tk">5</text>
<text x="106.96" y="249.53" font-size="5.1" text-anchor="middle" class="tk">6</text>
<text x="121.09" y="249.53" font-size="5.1" text-anchor="middle" class="tk">7</text>
<text x="135.22" y="249.53" font-size="5.1" text-anchor="middle" class="tk">8</text>
<text x="149.35" y="249.53" font-size="5.1" text-anchor="middle" class="tk">9</text>
<text x="163.47" y="249.53" font-size="5.1" text-anchor="middle" class="tk">10</text>
<text x="164.00" y="254.13" font-size="5.1" text-anchor="end">years</text>
<text x="7.2" y="199.9" font-size="5.8" text-anchor="middle">p</text>
<text x="197.80" y="244.33" font-size="5.1" text-anchor="end" class="tk">0.0</text>
<text x="197.80" y="235.29" font-size="5.1" text-anchor="end" class="tk">0.1</text>
<text x="197.80" y="226.25" font-size="5.1" text-anchor="end" class="tk">0.2</text>
<text x="197.80" y="217.21" font-size="5.1" text-anchor="end" class="tk">0.3</text>
<text x="197.80" y="208.17" font-size="5.1" text-anchor="end" class="tk">0.4</text>
<text x="197.80" y="199.13" font-size="5.1" text-anchor="end" class="tk">0.5</text>
<text x="197.80" y="190.09" font-size="5.1" text-anchor="end" class="tk">0.6</text>
<text x="197.80" y="181.05" font-size="5.1" text-anchor="end" class="tk">0.7</text>
<text x="197.80" y="172.01" font-size="5.1" text-anchor="end" class="tk">0.8</text>
<text x="197.80" y="162.97" font-size="5.1" text-anchor="end" class="tk">0.9</text>
<text x="197.80" y="153.93" font-size="5.1" text-anchor="end" class="tk">1.0</text>
<text x="200.80" y="249.43" font-size="5.1" text-anchor="middle" class="tk">0</text>
<text x="214.91" y="249.43" font-size="5.1" text-anchor="middle" class="tk">1</text>
<text x="229.02" y="249.43" font-size="5.1" text-anchor="middle" class="tk">2</text>
<text x="243.12" y="249.43" font-size="5.1" text-anchor="middle" class="tk">3</text>
<text x="257.23" y="249.43" font-size="5.1" text-anchor="middle" class="tk">4</text>
<text x="271.34" y="249.43" font-size="5.1" text-anchor="middle" class="tk">5</text>
<text x="285.44" y="249.43" font-size="5.1" text-anchor="middle" class="tk">6</text>
<text x="299.55" y="249.43" font-size="5.1" text-anchor="middle" class="tk">7</text>
<text x="313.66" y="249.43" font-size="5.1" text-anchor="middle" class="tk">8</text>
<text x="327.77" y="249.43" font-size="5.1" text-anchor="middle" class="tk">9</text>
<text x="341.88" y="249.43" font-size="5.1" text-anchor="middle" class="tk">10</text>
<text x="342.40" y="254.03" font-size="5.1" text-anchor="end">years</text>
<text x="185.8" y="199.5" font-size="5.8" text-anchor="middle">p</text>
<text x="366.40" y="244.03" font-size="5.1" text-anchor="end" class="tk">0.0</text>
<text x="366.40" y="234.92" font-size="5.1" text-anchor="end" class="tk">0.1</text>
<text x="366.40" y="225.81" font-size="5.1" text-anchor="end" class="tk">0.2</text>
<text x="366.40" y="216.70" font-size="5.1" text-anchor="end" class="tk">0.3</text>
<text x="366.40" y="207.59" font-size="5.1" text-anchor="end" class="tk">0.4</text>
<text x="366.40" y="198.48" font-size="5.1" text-anchor="end" class="tk">0.5</text>
<text x="366.40" y="189.37" font-size="5.1" text-anchor="end" class="tk">0.6</text>
<text x="366.40" y="180.26" font-size="5.1" text-anchor="end" class="tk">0.7</text>
<text x="366.40" y="171.15" font-size="5.1" text-anchor="end" class="tk">0.8</text>
<text x="366.40" y="162.04" font-size="5.1" text-anchor="end" class="tk">0.9</text>
<text x="366.40" y="152.93" font-size="5.1" text-anchor="end" class="tk">1.0</text>
<text x="369.40" y="249.13" font-size="5.1" text-anchor="middle" class="tk">0</text>
<text x="383.52" y="249.13" font-size="5.1" text-anchor="middle" class="tk">1</text>
<text x="397.63" y="249.13" font-size="5.1" text-anchor="middle" class="tk">2</text>
<text x="411.75" y="249.13" font-size="5.1" text-anchor="middle" class="tk">3</text>
<text x="425.87" y="249.13" font-size="5.1" text-anchor="middle" class="tk">4</text>
<text x="439.99" y="249.13" font-size="5.1" text-anchor="middle" class="tk">5</text>
<text x="454.10" y="249.13" font-size="5.1" text-anchor="middle" class="tk">6</text>
<text x="468.22" y="249.13" font-size="5.1" text-anchor="middle" class="tk">7</text>
<text x="482.34" y="249.13" font-size="5.1" text-anchor="middle" class="tk">8</text>
<text x="496.46" y="249.13" font-size="5.1" text-anchor="middle" class="tk">9</text>
<text x="510.57" y="249.13" font-size="5.1" text-anchor="middle" class="tk">10</text>
<text x="511.10" y="253.73" font-size="5.1" text-anchor="end">years</text>
<text x="353.0" y="200.3" font-size="6.6" text-anchor="middle">i</text>
<text x="19.60" y="382.43" font-size="5.1" text-anchor="end" class="tk">0.0</text>
<text x="19.60" y="373.43" font-size="5.1" text-anchor="end" class="tk">0.1</text>
<text x="19.60" y="364.43" font-size="5.1" text-anchor="end" class="tk">0.2</text>
<text x="19.60" y="355.43" font-size="5.1" text-anchor="end" class="tk">0.3</text>
<text x="19.60" y="346.43" font-size="5.1" text-anchor="end" class="tk">0.4</text>
<text x="19.60" y="337.43" font-size="5.1" text-anchor="end" class="tk">0.5</text>
<text x="19.60" y="328.43" font-size="5.1" text-anchor="end" class="tk">0.6</text>
<text x="19.60" y="319.43" font-size="5.1" text-anchor="end" class="tk">0.7</text>
<text x="19.60" y="310.43" font-size="5.1" text-anchor="end" class="tk">0.8</text>
<text x="19.60" y="301.43" font-size="5.1" text-anchor="end" class="tk">0.9</text>
<text x="19.60" y="292.43" font-size="5.1" text-anchor="end" class="tk">1.0</text>
<text x="22.60" y="387.53" font-size="5.1" text-anchor="middle" class="tk">0</text>
<text x="36.71" y="387.53" font-size="5.1" text-anchor="middle" class="tk">1</text>
<text x="50.81" y="387.53" font-size="5.1" text-anchor="middle" class="tk">2</text>
<text x="64.92" y="387.53" font-size="5.1" text-anchor="middle" class="tk">3</text>
<text x="79.03" y="387.53" font-size="5.1" text-anchor="middle" class="tk">4</text>
<text x="93.14" y="387.53" font-size="5.1" text-anchor="middle" class="tk">5</text>
<text x="107.25" y="387.53" font-size="5.1" text-anchor="middle" class="tk">6</text>
<text x="121.35" y="387.53" font-size="5.1" text-anchor="middle" class="tk">7</text>
<text x="135.46" y="387.53" font-size="5.1" text-anchor="middle" class="tk">8</text>
<text x="149.57" y="387.53" font-size="5.1" text-anchor="middle" class="tk">9</text>
<text x="163.67" y="387.53" font-size="5.1" text-anchor="middle" class="tk">10</text>
<text x="164.20" y="392.13" font-size="5.1" text-anchor="end">years</text>
<text x="7.6" y="337.8" font-size="5.8" text-anchor="middle">p</text>
<text x="197.50" y="382.13" font-size="5.1" text-anchor="end" class="tk">0.0</text>
<text x="197.50" y="373.13" font-size="5.1" text-anchor="end" class="tk">0.1</text>
<text x="197.50" y="364.13" font-size="5.1" text-anchor="end" class="tk">0.2</text>
<text x="197.50" y="355.13" font-size="5.1" text-anchor="end" class="tk">0.3</text>
<text x="197.50" y="346.13" font-size="5.1" text-anchor="end" class="tk">0.4</text>
<text x="197.50" y="337.13" font-size="5.1" text-anchor="end" class="tk">0.5</text>
<text x="197.50" y="328.13" font-size="5.1" text-anchor="end" class="tk">0.6</text>
<text x="197.50" y="319.13" font-size="5.1" text-anchor="end" class="tk">0.7</text>
<text x="197.50" y="310.13" font-size="5.1" text-anchor="end" class="tk">0.8</text>
<text x="197.50" y="301.13" font-size="5.1" text-anchor="end" class="tk">0.9</text>
<text x="197.50" y="292.13" font-size="5.1" text-anchor="end" class="tk">1.0</text>
<text x="200.50" y="387.23" font-size="5.1" text-anchor="middle" class="tk">0</text>
<text x="214.64" y="387.23" font-size="5.1" text-anchor="middle" class="tk">1</text>
<text x="228.77" y="387.23" font-size="5.1" text-anchor="middle" class="tk">2</text>
<text x="242.91" y="387.23" font-size="5.1" text-anchor="middle" class="tk">3</text>
<text x="257.05" y="387.23" font-size="5.1" text-anchor="middle" class="tk">4</text>
<text x="271.19" y="387.23" font-size="5.1" text-anchor="middle" class="tk">5</text>
<text x="285.32" y="387.23" font-size="5.1" text-anchor="middle" class="tk">6</text>
<text x="299.46" y="387.23" font-size="5.1" text-anchor="middle" class="tk">7</text>
<text x="313.60" y="387.23" font-size="5.1" text-anchor="middle" class="tk">8</text>
<text x="327.73" y="387.23" font-size="5.1" text-anchor="middle" class="tk">9</text>
<text x="341.87" y="387.23" font-size="5.1" text-anchor="middle" class="tk">10</text>
<text x="342.40" y="391.83" font-size="5.1" text-anchor="end">years</text>
<text x="185.5" y="337.5" font-size="5.8" text-anchor="middle">p</text>
<text x="366.80" y="381.93" font-size="5.1" text-anchor="end" class="tk">0.0</text>
<text x="366.80" y="372.80" font-size="5.1" text-anchor="end" class="tk">0.1</text>
<text x="366.80" y="363.67" font-size="5.1" text-anchor="end" class="tk">0.2</text>
<text x="366.80" y="354.54" font-size="5.1" text-anchor="end" class="tk">0.3</text>
<text x="366.80" y="345.41" font-size="5.1" text-anchor="end" class="tk">0.4</text>
<text x="366.80" y="336.28" font-size="5.1" text-anchor="end" class="tk">0.5</text>
<text x="366.80" y="327.15" font-size="5.1" text-anchor="end" class="tk">0.6</text>
<text x="366.80" y="318.02" font-size="5.1" text-anchor="end" class="tk">0.7</text>
<text x="366.80" y="308.89" font-size="5.1" text-anchor="end" class="tk">0.8</text>
<text x="366.80" y="299.76" font-size="5.1" text-anchor="end" class="tk">0.9</text>
<text x="366.80" y="290.63" font-size="5.1" text-anchor="end" class="tk">1.0</text>
<text x="369.80" y="387.03" font-size="5.1" text-anchor="middle" class="tk">0</text>
<text x="383.88" y="387.03" font-size="5.1" text-anchor="middle" class="tk">1</text>
<text x="397.96" y="387.03" font-size="5.1" text-anchor="middle" class="tk">2</text>
<text x="412.03" y="387.03" font-size="5.1" text-anchor="middle" class="tk">3</text>
<text x="426.11" y="387.03" font-size="5.1" text-anchor="middle" class="tk">4</text>
<text x="440.19" y="387.03" font-size="5.1" text-anchor="middle" class="tk">5</text>
<text x="454.27" y="387.03" font-size="5.1" text-anchor="middle" class="tk">6</text>
<text x="468.34" y="387.03" font-size="5.1" text-anchor="middle" class="tk">7</text>
<text x="482.42" y="387.03" font-size="5.1" text-anchor="middle" class="tk">8</text>
<text x="496.50" y="387.03" font-size="5.1" text-anchor="middle" class="tk">9</text>
<text x="510.58" y="387.03" font-size="5.1" text-anchor="middle" class="tk">10</text>
<text x="511.10" y="391.63" font-size="5.1" text-anchor="end">years</text>
<text x="353.4" y="338.1" font-size="6.6" text-anchor="middle">i</text>
<text x="19.70" y="515.13" font-size="5.1" text-anchor="end" class="tk">0.0</text>
<text x="19.70" y="506.60" font-size="5.1" text-anchor="end" class="tk">0.1</text>
<text x="19.70" y="498.07" font-size="5.1" text-anchor="end" class="tk">0.2</text>
<text x="19.70" y="489.54" font-size="5.1" text-anchor="end" class="tk">0.3</text>
<text x="19.70" y="481.01" font-size="5.1" text-anchor="end" class="tk">0.4</text>
<text x="19.70" y="472.48" font-size="5.1" text-anchor="end" class="tk">0.5</text>
<text x="19.70" y="463.95" font-size="5.1" text-anchor="end" class="tk">0.6</text>
<text x="19.70" y="455.42" font-size="5.1" text-anchor="end" class="tk">0.7</text>
<text x="19.70" y="446.89" font-size="5.1" text-anchor="end" class="tk">0.8</text>
<text x="19.70" y="438.36" font-size="5.1" text-anchor="end" class="tk">0.9</text>
<text x="19.70" y="429.83" font-size="5.1" text-anchor="end" class="tk">1.0</text>
<text x="22.70" y="520.23" font-size="5.1" text-anchor="middle" class="tk">0</text>
<text x="36.79" y="520.23" font-size="5.1" text-anchor="middle" class="tk">1</text>
<text x="50.88" y="520.23" font-size="5.1" text-anchor="middle" class="tk">2</text>
<text x="64.96" y="520.23" font-size="5.1" text-anchor="middle" class="tk">3</text>
<text x="79.05" y="520.23" font-size="5.1" text-anchor="middle" class="tk">4</text>
<text x="93.14" y="520.23" font-size="5.1" text-anchor="middle" class="tk">5</text>
<text x="107.23" y="520.23" font-size="5.1" text-anchor="middle" class="tk">6</text>
<text x="121.31" y="520.23" font-size="5.1" text-anchor="middle" class="tk">7</text>
<text x="135.40" y="520.23" font-size="5.1" text-anchor="middle" class="tk">8</text>
<text x="149.49" y="520.23" font-size="5.1" text-anchor="middle" class="tk">9</text>
<text x="163.58" y="520.23" font-size="5.1" text-anchor="middle" class="tk">10</text>
<text x="164.10" y="524.83" font-size="5.1" text-anchor="end">years</text>
<text x="7.7" y="472.9" font-size="5.8" text-anchor="middle">p</text>
<text x="198.00" y="515.63" font-size="5.1" text-anchor="end" class="tk">0.0</text>
<text x="198.00" y="507.07" font-size="5.1" text-anchor="end" class="tk">0.1</text>
<text x="198.00" y="498.51" font-size="5.1" text-anchor="end" class="tk">0.2</text>
<text x="198.00" y="489.95" font-size="5.1" text-anchor="end" class="tk">0.3</text>
<text x="198.00" y="481.39" font-size="5.1" text-anchor="end" class="tk">0.4</text>
<text x="198.00" y="472.83" font-size="5.1" text-anchor="end" class="tk">0.5</text>
<text x="198.00" y="464.27" font-size="5.1" text-anchor="end" class="tk">0.6</text>
<text x="198.00" y="455.71" font-size="5.1" text-anchor="end" class="tk">0.7</text>
<text x="198.00" y="447.15" font-size="5.1" text-anchor="end" class="tk">0.8</text>
<text x="198.00" y="438.59" font-size="5.1" text-anchor="end" class="tk">0.9</text>
<text x="198.00" y="430.03" font-size="5.1" text-anchor="end" class="tk">1.0</text>
<text x="201.00" y="520.73" font-size="5.1" text-anchor="middle" class="tk">0</text>
<text x="215.09" y="520.73" font-size="5.1" text-anchor="middle" class="tk">1</text>
<text x="229.18" y="520.73" font-size="5.1" text-anchor="middle" class="tk">2</text>
<text x="243.26" y="520.73" font-size="5.1" text-anchor="middle" class="tk">3</text>
<text x="257.35" y="520.73" font-size="5.1" text-anchor="middle" class="tk">4</text>
<text x="271.44" y="520.73" font-size="5.1" text-anchor="middle" class="tk">5</text>
<text x="285.53" y="520.73" font-size="5.1" text-anchor="middle" class="tk">6</text>
<text x="299.61" y="520.73" font-size="5.1" text-anchor="middle" class="tk">7</text>
<text x="313.70" y="520.73" font-size="5.1" text-anchor="middle" class="tk">8</text>
<text x="327.79" y="520.73" font-size="5.1" text-anchor="middle" class="tk">9</text>
<text x="341.88" y="520.73" font-size="5.1" text-anchor="middle" class="tk">10</text>
<text x="342.40" y="525.33" font-size="5.1" text-anchor="end">years</text>
<text x="186.0" y="473.2" font-size="5.8" text-anchor="middle">p</text>
<text x="366.40" y="515.13" font-size="5.1" text-anchor="end" class="tk">0.0</text>
<text x="366.40" y="506.47" font-size="5.1" text-anchor="end" class="tk">0.1</text>
<text x="366.40" y="497.81" font-size="5.1" text-anchor="end" class="tk">0.2</text>
<text x="366.40" y="489.15" font-size="5.1" text-anchor="end" class="tk">0.3</text>
<text x="366.40" y="480.49" font-size="5.1" text-anchor="end" class="tk">0.4</text>
<text x="366.40" y="471.83" font-size="5.1" text-anchor="end" class="tk">0.5</text>
<text x="366.40" y="463.17" font-size="5.1" text-anchor="end" class="tk">0.6</text>
<text x="366.40" y="454.51" font-size="5.1" text-anchor="end" class="tk">0.7</text>
<text x="366.40" y="445.85" font-size="5.1" text-anchor="end" class="tk">0.8</text>
<text x="366.40" y="437.19" font-size="5.1" text-anchor="end" class="tk">0.9</text>
<text x="366.40" y="428.53" font-size="5.1" text-anchor="end" class="tk">1.0</text>
<text x="369.40" y="520.23" font-size="5.1" text-anchor="middle" class="tk">0</text>
<text x="383.50" y="520.23" font-size="5.1" text-anchor="middle" class="tk">1</text>
<text x="397.60" y="520.23" font-size="5.1" text-anchor="middle" class="tk">2</text>
<text x="411.69" y="520.23" font-size="5.1" text-anchor="middle" class="tk">3</text>
<text x="425.79" y="520.23" font-size="5.1" text-anchor="middle" class="tk">4</text>
<text x="439.89" y="520.23" font-size="5.1" text-anchor="middle" class="tk">5</text>
<text x="453.99" y="520.23" font-size="5.1" text-anchor="middle" class="tk">6</text>
<text x="468.08" y="520.23" font-size="5.1" text-anchor="middle" class="tk">7</text>
<text x="482.18" y="520.23" font-size="5.1" text-anchor="middle" class="tk">8</text>
<text x="496.28" y="520.23" font-size="5.1" text-anchor="middle" class="tk">9</text>
<text x="510.38" y="520.23" font-size="5.1" text-anchor="middle" class="tk">10</text>
<text x="510.90" y="524.83" font-size="5.1" text-anchor="end">years</text>
<text x="353.0" y="473.6" font-size="6.6" text-anchor="middle">i</text>
<text x="0.75" y="10.61" font-size="11.8" style="fill:#000;stroke:#000;stroke-width:0.35px">A</text>
<text x="181.17" y="10.41" font-size="11.8" style="fill:#000;stroke:#000;stroke-width:0.35px">B</text>
<text x="350.31" y="10.61" font-size="11.8" style="fill:#000;stroke:#000;stroke-width:0.35px">C</text>
<text x="0.94" y="142.51" font-size="11.8" style="fill:#000;stroke:#000;stroke-width:0.35px">D</text>
<text x="181.11" y="142.51" font-size="11.8" style="fill:#000;stroke:#000;stroke-width:0.35px">E</text>
<text x="350.62" y="142.51" font-size="11.8" style="fill:#000;stroke:#000;stroke-width:0.35px">F</text>
<text x="1.13" y="279.71" font-size="11.8" style="fill:#000;stroke:#000;stroke-width:0.35px">G</text>
<text x="181.05" y="279.66" font-size="11.8" style="fill:#000;stroke:#000;stroke-width:0.35px">H</text>
<text x="352.97" y="279.51" font-size="11.8" style="fill:#000;stroke:#000;stroke-width:0.35px">I</text>
<text x="4.13" y="420.35" font-size="11.8" style="fill:#000;stroke:#000;stroke-width:0.35px">J</text>
<text x="185.35" y="420.76" font-size="11.8" style="fill:#000;stroke:#000;stroke-width:0.35px">K</text>
<text x="354.83" y="419.86" font-size="11.8" style="fill:#000;stroke:#000;stroke-width:0.35px">L</text>
<text x="16.20" y="16.15" font-size="4.9" textLength="113.00" lengthAdjust="spacingAndGlyphs">AML 11q23 Additional Aberrations  EFS (5 years)</text>
<text x="195.00" y="16.25" font-size="4.9" textLength="122.70" lengthAdjust="spacingAndGlyphs">AML 11q23 Additional Aberrations  Survival (5 years)</text>
<text x="363.80" y="15.05" font-size="4.9" textLength="112.00" lengthAdjust="spacingAndGlyphs">AML 11q23 Additional Aberrations  CIR (5 years)</text>
<text x="16.50" y="147.55" font-size="4.9" textLength="113.00" lengthAdjust="spacingAndGlyphs">AML 11q23 Additional Aberrations  EFS (5 years)</text>
<text x="195.00" y="147.15" font-size="4.9" textLength="122.70" lengthAdjust="spacingAndGlyphs">AML 11q23 Additional Aberrations  Survival (5 years)</text>
<text x="363.80" y="145.55" font-size="4.9" textLength="112.00" lengthAdjust="spacingAndGlyphs">AML 11q23 Additional Aberrations  CIR (5 years)</text>
<text x="16.50" y="284.95" font-size="4.9" textLength="113.00" lengthAdjust="spacingAndGlyphs">AML 11q23 Additional Aberrations  EFS (5 years)</text>
<text x="195.00" y="284.85" font-size="4.9" textLength="122.70" lengthAdjust="spacingAndGlyphs">AML 11q23 Additional Aberrations  Survival (5 years)</text>
<text x="364.20" y="283.95" font-size="4.9" textLength="112.00" lengthAdjust="spacingAndGlyphs">AML 11q23 Additional Aberrations  CIR (5 years)</text>
<text x="16.90" y="422.55" font-size="4.9" textLength="113.00" lengthAdjust="spacingAndGlyphs">AML 11q23 Additional Aberrations  EFS (5 years)</text>
<text x="195.20" y="423.15" font-size="4.9" textLength="122.70" lengthAdjust="spacingAndGlyphs">AML 11q23 Additional Aberrations  Survival (5 years)</text>
<text x="363.70" y="421.05" font-size="4.9" textLength="112.00" lengthAdjust="spacingAndGlyphs">AML 11q23 Additional Aberrations  CIR (5 years)</text>
<text x="80.80" y="62.35" font-size="4.9" textLength="32.00" lengthAdjust="spacingAndGlyphs">0.53, SE=0.04</text>
<text x="80.80" y="91.35" font-size="4.9" textLength="32.00" lengthAdjust="spacingAndGlyphs">0.29, SE=0.03</text>
<text x="50.60" y="108.85" font-size="4.9" textLength="47.00" lengthAdjust="spacingAndGlyphs">Log-Rank p = .00020</text>
<text x="26.90" y="127.85" font-size="4.9" textLength="78.70" lengthAdjust="spacingAndGlyphs">No Trisomy 8  (N=214, 149 events)</text>
<text x="26.90" y="133.65" font-size="4.9" textLength="69.20" lengthAdjust="spacingAndGlyphs">Trisomy 8  (N=130, 60 events)</text>
<text x="259.70" y="54.15" font-size="4.9" textLength="31.19" lengthAdjust="spacingAndGlyphs">0.61, SE=0.05</text>
<text x="259.70" y="82.65" font-size="4.9" textLength="31.19" lengthAdjust="spacingAndGlyphs">0.39, SE=0.04</text>
<text x="228.90" y="108.75" font-size="4.9" textLength="44.70" lengthAdjust="spacingAndGlyphs">Log-Rank p = .0025</text>
<text x="205.20" y="127.55" font-size="4.9" textLength="78.84" lengthAdjust="spacingAndGlyphs">No Trisomy 8  (N=214, 117 events)</text>
<text x="205.20" y="133.55" font-size="4.9" textLength="68.50" lengthAdjust="spacingAndGlyphs">Trisomy 8  (N=130, 47 events)</text>
<text x="376.70" y="26.25" font-size="4.9" textLength="62.60" lengthAdjust="spacingAndGlyphs">NR/Relapse  p(Gray) &lt;.0001</text>
<text x="434.40" y="53.19" font-size="4.45" textLength="28.40" lengthAdjust="spacingAndGlyphs">0.62, SE=0.03</text>
<text x="435.90" y="76.89" font-size="4.45" textLength="27.90" lengthAdjust="spacingAndGlyphs">0.35, SE=0.04</text>
<text x="374.20" y="126.15" font-size="4.9" textLength="79.11" lengthAdjust="spacingAndGlyphs">No Trisomy 8  (N=214, 128 events)</text>
<text x="374.20" y="131.75" font-size="4.9" textLength="68.50" lengthAdjust="spacingAndGlyphs">Trisomy 8  (N=130, 46 events)</text>
<text x="81.40" y="203.75" font-size="4.9" textLength="31.80" lengthAdjust="spacingAndGlyphs">0.40, SE=0.03</text>
<text x="81.40" y="232.75" font-size="4.9" textLength="31.80" lengthAdjust="spacingAndGlyphs">0.17, SE=0.07</text>
<text x="51.00" y="239.55" font-size="4.9" textLength="45.00" lengthAdjust="spacingAndGlyphs">Log-Rank p = .0027</text>
<text x="27.10" y="258.65" font-size="4.9" textLength="80.48" lengthAdjust="spacingAndGlyphs">No Trisomy 19 (N=307, 180 events)</text>
<text x="27.10" y="264.75" font-size="4.9" textLength="69.86" lengthAdjust="spacingAndGlyphs">Trisomy 19  (N= 37, 29 events)</text>
<text x="259.80" y="195.15" font-size="4.9" textLength="31.19" lengthAdjust="spacingAndGlyphs">0.50, SE=0.03</text>
<text x="259.80" y="227.15" font-size="4.9" textLength="31.19" lengthAdjust="spacingAndGlyphs">0.24, SE=0.08</text>
<text x="229.00" y="239.55" font-size="4.9" textLength="47.70" lengthAdjust="spacingAndGlyphs">Log-Rank p = .00020</text>
<text x="205.20" y="258.75" font-size="4.9" textLength="80.48" lengthAdjust="spacingAndGlyphs">No Trisomy 19 (N=307, 139 events)</text>
<text x="205.20" y="264.65" font-size="4.9" textLength="69.86" lengthAdjust="spacingAndGlyphs">Trisomy 19  (N= 37, 25 events)</text>
<text x="376.90" y="156.95" font-size="4.9" textLength="63.10" lengthAdjust="spacingAndGlyphs">NR/Relapse  p(Gray)= 0.877</text>
<text x="428.70" y="190.29" font-size="4.45" textLength="28.30" lengthAdjust="spacingAndGlyphs">0.54, SE=0.09</text>
<text x="428.70" y="199.39" font-size="4.45" textLength="28.30" lengthAdjust="spacingAndGlyphs">0.51, SE=0.03</text>
<text x="374.20" y="257.45" font-size="4.9" textLength="80.48" lengthAdjust="spacingAndGlyphs">No Trisomy 19 (N=307, 155 events)</text>
<text x="374.20" y="263.45" font-size="4.9" textLength="69.86" lengthAdjust="spacingAndGlyphs">Trisomy 19  (N= 37, 19 events)</text>
<text x="81.40" y="341.85" font-size="4.9" textLength="31.80" lengthAdjust="spacingAndGlyphs">0.40, SE=0.03</text>
<text x="81.40" y="369.45" font-size="4.9" textLength="31.80" lengthAdjust="spacingAndGlyphs">0.19, SE=0.07</text>
<text x="51.10" y="377.65" font-size="4.9" textLength="45.00" lengthAdjust="spacingAndGlyphs">Log-Rank p = .0072</text>
<text x="27.00" y="396.55" font-size="4.9" textLength="81.84" lengthAdjust="spacingAndGlyphs">No Trisomy 21  (N=308, 181 events)</text>
<text x="27.00" y="402.95" font-size="4.9" textLength="69.86" lengthAdjust="spacingAndGlyphs">Trisomy 21  (N= 36, 28 events)</text>
<text x="260.00" y="332.65" font-size="4.9" textLength="31.19" lengthAdjust="spacingAndGlyphs">0.50, SE=0.03</text>
<text x="260.00" y="361.55" font-size="4.9" textLength="31.19" lengthAdjust="spacingAndGlyphs">0.28, SE=0.08</text>
<text x="229.00" y="377.35" font-size="4.9" textLength="42.07" lengthAdjust="spacingAndGlyphs">Log-Rank p = .015</text>
<text x="205.20" y="396.85" font-size="4.9" textLength="81.84" lengthAdjust="spacingAndGlyphs">No Trisomy 21  (N=308, 140 events)</text>
<text x="205.20" y="402.85" font-size="4.9" textLength="69.86" lengthAdjust="spacingAndGlyphs">Trisomy 21  (N= 36, 24 events)</text>
<text x="376.90" y="295.35" font-size="4.9" textLength="64.20" lengthAdjust="spacingAndGlyphs">NR/Relapse  p(Gray)= 0.014</text>
<text x="432.20" y="313.79" font-size="4.45" textLength="27.90" lengthAdjust="spacingAndGlyphs">0.69, SE=0.08</text>
<text x="432.70" y="341.19" font-size="4.45" textLength="28.40" lengthAdjust="spacingAndGlyphs">0.50, SE=0.03</text>
<text x="375.20" y="395.15" font-size="4.9" textLength="81.84" lengthAdjust="spacingAndGlyphs">No Trisomy 21  (N=308, 150 events)</text>
<text x="375.20" y="401.05" font-size="4.9" textLength="69.86" lengthAdjust="spacingAndGlyphs">Trisomy 21  (N= 36, 24 events)</text>
<text x="50.80" y="510.85" font-size="4.9" textLength="39.34" lengthAdjust="spacingAndGlyphs">Log-Rank p = .89</text>
<text x="27.50" y="527.65" font-size="4.9" textLength="25.60" lengthAdjust="spacingAndGlyphs">Trisomy 19</text>
<text x="62.10" y="527.65" font-size="4.9" textLength="75.00" lengthAdjust="spacingAndGlyphs">0.17, SE=0.10 (N= 22, 17 events)</text>
<text x="27.50" y="533.45" font-size="4.9" textLength="25.60" lengthAdjust="spacingAndGlyphs">Trisomy 21</text>
<text x="62.10" y="533.45" font-size="4.9" textLength="75.00" lengthAdjust="spacingAndGlyphs">0.21, SE=0.09 (N= 21, 16 events)</text>
<text x="27.50" y="539.35" font-size="4.9" textLength="33.91" lengthAdjust="spacingAndGlyphs">Trisomy 19+21</text>
<text x="62.10" y="539.35" font-size="4.9" textLength="75.00" lengthAdjust="spacingAndGlyphs">0.17, SE=0.10 (N= 15, 12 events)</text>
<text x="229.50" y="511.35" font-size="4.9" textLength="39.34" lengthAdjust="spacingAndGlyphs">Log-Rank p = .58</text>
<text x="206.00" y="528.45" font-size="4.9" textLength="25.60" lengthAdjust="spacingAndGlyphs">Trisomy 19</text>
<text x="241.00" y="528.45" font-size="4.9" textLength="73.80" lengthAdjust="spacingAndGlyphs">0.21, SE=0.11 (N= 22, 15 events)</text>
<text x="206.00" y="534.25" font-size="4.9" textLength="25.60" lengthAdjust="spacingAndGlyphs">Trisomy 21</text>
<text x="241.00" y="534.25" font-size="4.9" textLength="73.80" lengthAdjust="spacingAndGlyphs">0.29, SE=0.10 (N= 21, 14 events)</text>
<text x="206.00" y="540.15" font-size="4.9" textLength="33.91" lengthAdjust="spacingAndGlyphs">Trisomy 19+21</text>
<text x="241.00" y="540.15" font-size="4.9" textLength="73.80" lengthAdjust="spacingAndGlyphs">0.27, SE=0.12 (N= 15, 10 events)</text>
<text x="376.50" y="432.55" font-size="4.9" textLength="64.00" lengthAdjust="spacingAndGlyphs">NR/Relapse  p(Gray)= 0.130</text>
<text x="374.60" y="526.65" font-size="4.9" textLength="25.60" lengthAdjust="spacingAndGlyphs">Trisomy 19</text>
<text x="409.20" y="526.65" font-size="4.9" textLength="74.70" lengthAdjust="spacingAndGlyphs">0.46, SE=0.11 (N= 22, 10 events)</text>
<text x="374.60" y="532.25" font-size="4.9" textLength="25.60" lengthAdjust="spacingAndGlyphs">Trisomy 21</text>
<text x="409.20" y="532.25" font-size="4.9" textLength="74.70" lengthAdjust="spacingAndGlyphs">0.74, SE=0.10 (N= 21, 15 events)</text>
<text x="374.60" y="537.95" font-size="4.9" textLength="33.91" lengthAdjust="spacingAndGlyphs">Trisomy 19+21</text>
<text x="409.20" y="537.95" font-size="4.9" textLength="71.60" lengthAdjust="spacingAndGlyphs">0.63, SE=0.14 (N= 15, 9 events)</text>
</g>
</svg>
</body></html>
